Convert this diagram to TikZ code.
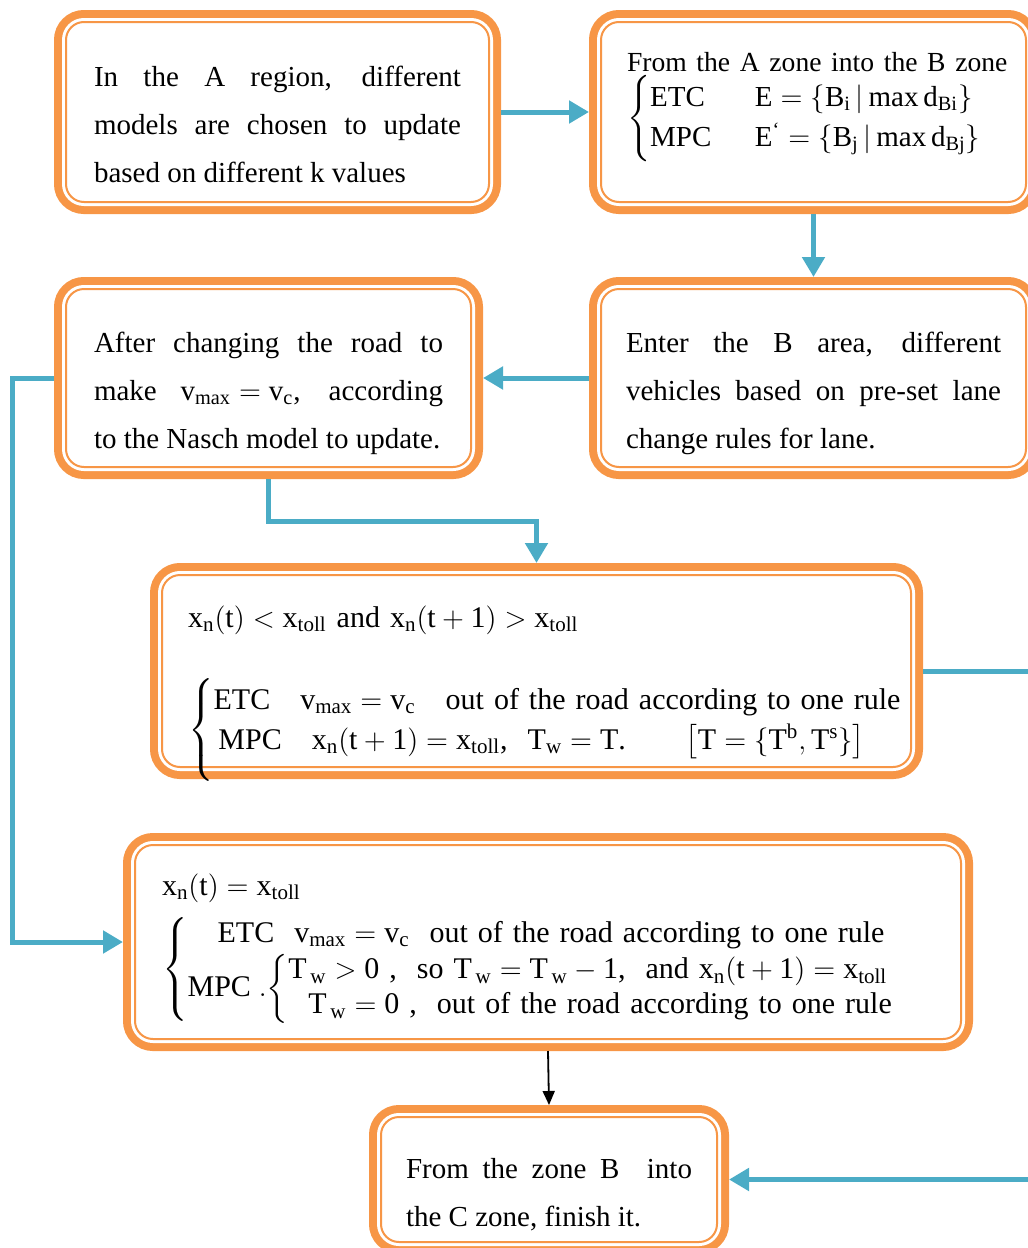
\documentclass[tikz,border=0pt]{standalone}
\usepackage{amsmath}
\usepackage{fontspec}
\setmainfont{Liberation Serif}
\usetikzlibrary{arrows.meta}
\definecolor{boxorange}{HTML}{F79646}
\definecolor{flowteal}{HTML}{4BACC6}
\begin{document}
\begin{tikzpicture}[x=0.5pt,y=-0.5pt,
  box/.style={draw=boxorange,line width=1pt,fill=white,rounded corners=9pt,
    inner sep=0pt,outer sep=6pt,
    preaction={draw=boxorange,line width=12pt},
    preaction={draw=white,line width=4pt}},
  prose/.style={box,align=justify,text height=25.5pt,
    font=\fontsize{14.5pt}{24pt}\selectfont},
  formula/.style={box,align=left,text height=10pt,
    font=\fontsize{15pt}{20pt}\selectfont},
  flow/.style={draw=flowteal,line width=2.5pt,-{Triangle[length=10pt,width=11pt]}},
  plain/.style={draw=black,line width=0.9pt,-{Triangle[length=7pt,width=6pt]}}]
  \useasboundingbox (0,0) rectangle (1028,1248);
  \node[prose,text height=22.5pt,minimum width=211.5pt,minimum height=90pt,text width=183.5pt] (b1) at (277.5,112)
    {In the A region, different\linebreak models are chosen to update\linebreak based on different k values};
  \node[formula,font=\fontsize{14.5pt}{20pt}\selectfont,text depth=51pt,minimum width=212.5pt,minimum height=90pt,text width=186.5pt] (b2) at (813.5,112)
    {\mbox{\fontsize{13.8pt}{20pt}\selectfont From the A zone into the B zone}\\[1pt]
     $\left\{\begin{array}{@{}l@{\hspace{1.5em}}l@{}}
       \text{ETC} & \mathrm{E=\{B_i\,|\,max\,d_{Bi}\}}\\
       \text{MPC} & \mathrm{E^{\text{`}}=\{B_j\,|\,max\,d_{Bj}\}}
     \end{array}\right.$};
  \node[prose,minimum width=212.5pt,minimum height=89pt,text width=187.5pt] (b3) at (813.5,378)
    {Enter the B area, different\linebreak vehicles based on pre-set lane\linebreak change rules for lane.};
  \node[prose,minimum width=202.5pt,minimum height=89pt,text width=174.5pt] (b4) at (268.5,378)
    {After changing the road to\linebreak make $\mathrm{v_{max}=v_c}$, according\linebreak to the Nasch model to update.};
  \node[formula,text depth=54pt,minimum width=374.5pt,minimum height=96pt,text width=348.5pt] (b5) at (536.5,671)
    {$\mathrm{x_n(t)<x_{toll}}$ and $\mathrm{x_n(t+1)>x_{toll}}$\\[21pt]
     $\left\{\begin{array}{@{}l@{}}
       \text{ETC}\quad\mathrm{v_{max}=v_c}\quad\text{out of the road according to one rule}\\
       \,\text{MPC}\quad\mathrm{x_n(t+1)=x_{toll}}\text{,}\ \ \mathrm{T_w=T}\text{.}\qquad\mathrm{\big[T=\{T^b,T^s\}\big]}\rule[-15pt]{0pt}{0pt}
     \end{array}\right.$};
  \node[formula,text depth=57pt,minimum width=413pt,minimum height=97pt,text width=386pt] (b6) at (548,942)
    {$\mathrm{x_n(t)=x_{toll}}$\\[5pt]
     $\left\{\begin{array}{@{}l@{}}
       \quad\text{ETC}\ \ \mathrm{v_{max}=v_c}\ \ \text{out of the road according to one rule}\\
       \text{MPC}\;.\!\left\{\def\arraystretch{0.875}\begin{array}{@{}l@{}}
         \mathrm{T_{\,w}>0}\ \text{,\ \ so}\ \mathrm{T_{\,w}=T_{\,w}-1}\text{,\ \ and}\ \mathrm{x_n(t+1)=x_{toll}}\\
         \hspace{10pt}\mathrm{T_{\,w}=0}\ \text{,\ \ out of the road according to one rule}
       \end{array}\right.
     \end{array}\right.$};
  \node[prose,text height=25.5pt,minimum width=168pt,minimum height=62.5pt,text width=143pt] (b7) at (549,1179.5)
    {From the zone B\ \ into\linebreak the C zone, finish it.};
  \draw[flow] (b1.east) -- (b2.west);
  \draw[flow] (b2.south) -- (b3.north);
  \draw[flow] (b3.west) -- (b4.east);
  \draw[flow] (b4.south) -- ++(0,42) -| (b5.north);
  \draw[flow] (b4.west) -- ++(-42,0) |- (b6.west);
  \draw[flow] (b5.east) -- ++(130,0) |- (b7.east);
  \draw[plain] (b6.south) -- (b7.north);
\end{tikzpicture}
\end{document}
